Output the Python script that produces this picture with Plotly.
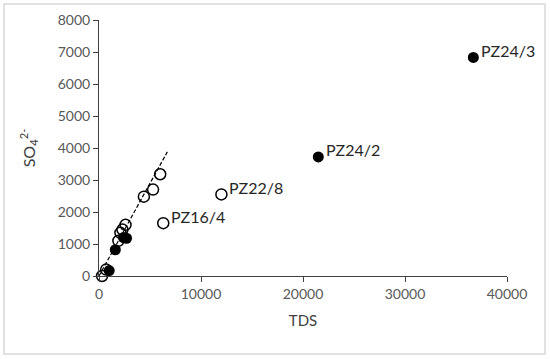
import plotly.graph_objects as go

open_tds = [300, 700, 1900, 2100, 2300, 2600, 4400, 5300, 6000, 6300, 12000]
open_so4 = [0, 200, 1100, 1350, 1450, 1600, 2480, 2700, 3180, 1650, 2550]
open_labels = ["", "", "", "", "", "", "", "", "", "PZ16/4", "PZ22/8"]

filled_tds = [1000, 1600, 2400, 2700, 21500, 36700]
filled_so4 = [170, 820, 1200, 1180, 3720, 6830]
filled_labels = ["", "", "", "", "PZ24/2", "PZ24/3"]

trend_tds = [0, 6700]
trend_so4 = [0, 3880]

x_ticks = [0, 10000, 20000, 30000, 40000]
y_ticks = [0, 1000, 2000, 3000, 4000, 5000, 6000, 7000, 8000]

font_family = "Lato, Open Sans, sans-serif"

fig = go.Figure()
fig.add_trace(go.Scatter(x=trend_tds, y=trend_so4, mode="lines",
                         line=dict(color="black", width=1.2, dash="4px,2px"),
                         showlegend=False, hoverinfo="skip", cliponaxis=False))
fig.add_trace(go.Scatter(x=open_tds, y=open_so4, mode="markers",
                         marker=dict(symbol="circle-open", size=11, color="black",
                                     line=dict(width=1.5, color="black")),
                         showlegend=False, cliponaxis=False))
fig.add_trace(go.Scatter(x=filled_tds, y=filled_so4, mode="markers",
                         marker=dict(symbol="circle", size=11, color="black"),
                         showlegend=False, cliponaxis=False))

annotations = []
for xs, ys, labs in [(open_tds, open_so4, open_labels), (filled_tds, filled_so4, filled_labels)]:
    for x, y, t in zip(xs, ys, labs):
        if t:
            annotations.append(dict(x=x, y=y, text=t, showarrow=False,
                                    xanchor="left", yanchor="middle",
                                    xshift=6, yshift=7,
                                    font=dict(size=16, color="#262626", family=font_family)))

fig.update_layout(
    width=550, height=359,
    margin=dict(l=99, r=43, t=20, b=83, autoexpand=False),
    paper_bgcolor="white", plot_bgcolor="white",
    font=dict(family=font_family, size=12, color="#595959"),
    annotations=annotations,
    xaxis=dict(range=[0, 40000], tickvals=x_ticks, ticktext=[str(v) for v in x_ticks],
               ticks="outside", ticklen=5, tickcolor="#404040",
               showline=True, linecolor="#404040", linewidth=1,
               showgrid=False, zeroline=False, automargin=False,
               title=dict(text="TDS", font=dict(size=15, color="#404040"), standoff=14),
               tickfont=dict(size=14, color="#595959")),
    yaxis=dict(range=[0, 8000], tickvals=y_ticks, ticktext=[str(v) for v in y_ticks],
               ticks="outside", ticklen=5, tickcolor="#404040",
               showline=True, linecolor="#404040", linewidth=1,
               showgrid=False, zeroline=False, automargin=False,
               title=dict(text="SO<sub>4</sub><sup>2-</sup>", font=dict(size=16, color="#404040"), standoff=18),
               tickfont=dict(size=14, color="#595959")),
    shapes=[dict(type="rect", xref="paper", yref="paper",
                 x0=(4 - 99) / 408, x1=(545 - 99) / 408,
                 y0=(276 - 354) / 256, y1=(276 - 4) / 256,
                 line=dict(color="#D9D9D9", width=1.5), layer="below")],
)

fig.write_html("out.html", config={"displayModeBar": False},
               post_script="document.body.style.margin='0px';")
